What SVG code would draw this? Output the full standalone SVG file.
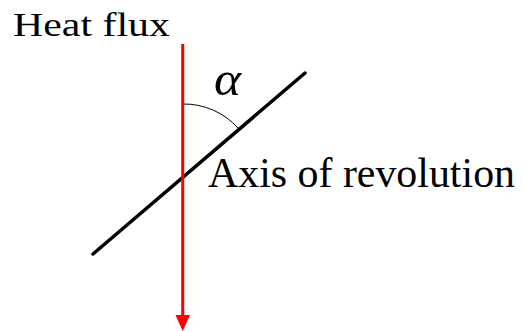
<svg xmlns="http://www.w3.org/2000/svg" width="523" height="331" viewBox="0 0 523 331">
<style>
.lbl{font-family:"Liberation Serif","Times New Roman",serif;fill:#000}
</style>
<rect width="523" height="331" fill="#fff"/>
<g id="connectors">
<line x1="93" y1="254" x2="305" y2="73" stroke="#000" stroke-width="3.5" stroke-linecap="round"/>
<path d="M182.7,104 A73,73 0 0 1 238,128" fill="none" stroke="#000" stroke-width="1"/>
<line id="heat-flux-arrow" x1="182.7" y1="44" x2="182.7" y2="315" stroke="#ff0000" stroke-width="3"/>
<path d="M175.5,315 L190,315 L182.7,331 Z" fill="#ff0000"/>
</g>
<g id="heat-flux">
<text class="lbl" x="13" y="36" font-size="34" textLength="157" lengthAdjust="spacingAndGlyphs">Heat flux</text>
</g>
<g id="alpha">
<text class="lbl" x="214" y="95" font-size="48" font-style="italic" textLength="27" lengthAdjust="spacingAndGlyphs">α</text>
</g>
<g id="axis">
<text class="lbl" x="208" y="187" font-size="42" textLength="307" lengthAdjust="spacingAndGlyphs">Axis of revolution</text>
</g>
</svg>
